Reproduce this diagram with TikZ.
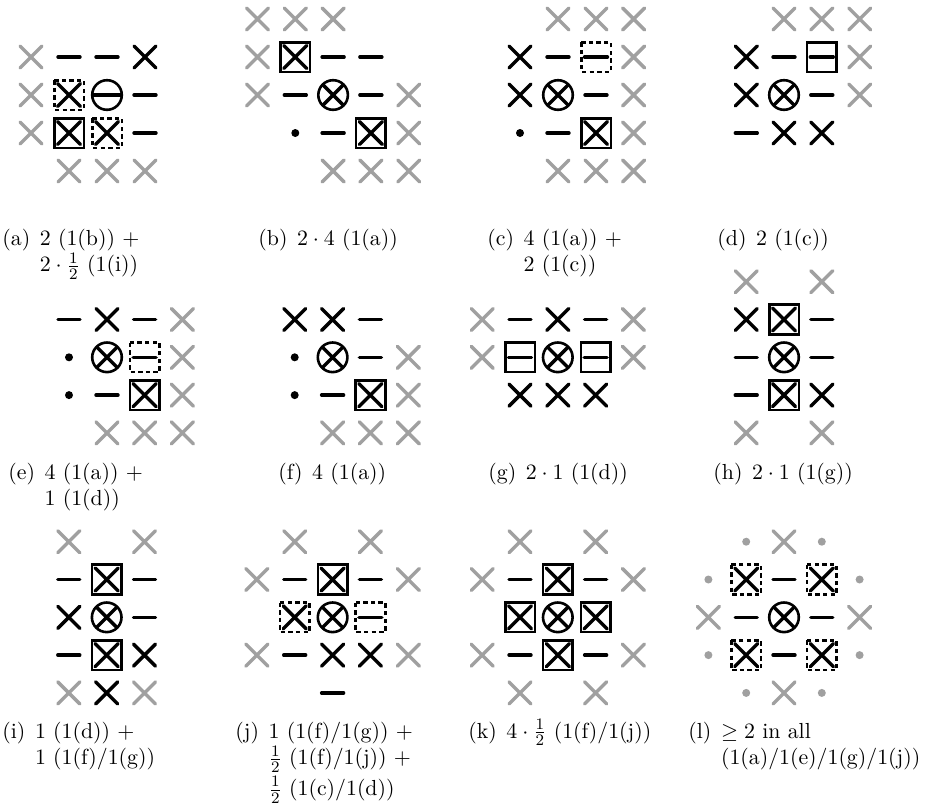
\documentclass[tikz,border=0pt]{standalone}
\usepackage{amsmath,amssymb}
\definecolor{lg}{RGB}{160,160,160}
\tikzset{
 gxs/.style={draw=lg,line width=1.7pt,line cap=round},
 bxs/.style={draw=black,line width=1.7pt,line cap=round},
 fr/.style={draw=black,line width=1.3pt},
 dfr/.style={fr,dash pattern=on 2.2pt off 1.6pt},
 pics/gx/.style={code={\draw[gxs] (-11,-11)--(11,11) (-11,11)--(11,-11);}},
 pics/bx/.style={code={\draw[bxs] (-11,-11)--(11,11) (-11,11)--(11,-11);}},
 pics/dsh/.style={code={\draw[bxs] (-11,0)--(11,0);}},
 pics/dt/.style={code={\fill (0,0) circle (2pt);}},
 pics/gdt/.style={code={\fill[lg] (0,0) circle (2pt);}},
 pics/bbx/.style={code={\draw[fr] (-14.8,-14.8) rectangle (14.8,14.8);
   \draw[bxs] (-11.5,-11.5)--(11.5,11.5) (-11.5,11.5)--(11.5,-11.5);}},
 pics/dbx/.style={code={\draw[dfr] (-14.8,-14.8) rectangle (14.8,14.8);
   \draw[bxs] (-11.5,-11.5)--(11.5,11.5) (-11.5,11.5)--(11.5,-11.5);}},
 pics/bbm/.style={code={\draw[fr] (-14.8,-14.8) rectangle (14.8,14.8);
   \draw[bxs] (-11.5,0)--(11.5,0);}},
 pics/dbm/.style={code={\draw[dfr] (-14.8,-14.8) rectangle (14.8,14.8);
   \draw[bxs] (-11.5,0)--(11.5,0);}},
 pics/cx/.style={code={\draw[fr] (0,0) circle (7.4pt);
   \draw[draw=black,line width=1.7pt] (-10.4,-10.4)--(10.4,10.4) (-10.4,10.4)--(10.4,-10.4);}},
 pics/cm/.style={code={\draw[fr] (0,0) circle (7.4pt);
   \draw[draw=black,line width=1.7pt] (-14.5,0)--(14.5,0);}},
 captxt/.style={anchor=base west,inner sep=0pt,font=\fontsize{10.9}{13}\selectfont},
}
\newcommand\lbsep{\hspace{4.8pt}}
\begin{document}
\begin{tikzpicture}[x=0.5pt,y=-0.5pt]
\useasboundingbox (0,0) rectangle (926,810);
% (a)
\path (31,57) pic{gx} (69,57) pic{dsh} (107,57) pic{dsh} (145,57) pic{bx}
      (31,95) pic{gx} (69,95) pic{dbx} (107,95) pic{cm} (145,95) pic{dsh}
      (31,133) pic{gx} (69,133) pic{bbx} (107,133) pic{dbx} (145,133) pic{dsh}
      (69,171) pic{gx} (107,171) pic{gx} (145,171) pic{gx};
% (b)
\path (257.5,19) pic{gx} (295.3,19) pic{gx} (333.1,19) pic{gx}
      (257.5,57) pic{gx} (295.3,57) pic{bbx} (333.1,57) pic{dsh} (370.9,57) pic{dsh}
      (257.5,95) pic{gx} (295.3,95) pic{dsh} (333.1,95) pic{cx} (370.9,95) pic{dsh} (408.7,95) pic{gx}
      (295.3,133) pic{dt} (333.1,133) pic{dsh} (370.9,133) pic{bbx} (408.7,133) pic{gx}
      (333.1,171) pic{gx} (370.9,171) pic{gx} (408.7,171) pic{gx};
% (c)
\path (558,19) pic{gx} (596,19) pic{gx} (633.6,19) pic{gx}
      (520,57) pic{bx} (558,57) pic{dsh} (596,57) pic{dbm} (633.6,57) pic{gx}
      (520,95) pic{bx} (558,95) pic{cx} (596,95) pic{dsh} (633.6,95) pic{gx}
      (520,133) pic{dt} (558,133) pic{dsh} (596,133) pic{bbx} (633.6,133) pic{gx}
      (558,171) pic{gx} (596,171) pic{gx} (633.6,171) pic{gx};
% (d)
\path (784,19) pic{gx} (821.8,19) pic{gx} (859.7,19) pic{gx}
      (746.3,57) pic{bx} (784,57) pic{dsh} (821.8,57) pic{bbm} (859.7,57) pic{gx}
      (746.3,95) pic{bx} (784,95) pic{cx} (821.8,95) pic{dsh} (859.7,95) pic{gx}
      (746.3,133) pic{dsh} (784,133) pic{bx} (821.8,133) pic{bx};
% (e)
\path (69,319.5) pic{dsh} (107,319.5) pic{bx} (144.6,319.5) pic{dsh} (182.4,319.5) pic{gx}
      (69,357.3) pic{dt} (107,357.3) pic{cx} (144.6,357.3) pic{dbm} (182.4,357.3) pic{gx}
      (69,395.1) pic{dt} (107,395.1) pic{dsh} (144.6,395.1) pic{bbx} (182.4,395.1) pic{gx}
      (107,432.9) pic{gx} (144.6,432.9) pic{gx} (182.4,432.9) pic{gx};
% (f)
\path (294.7,319.5) pic{bx} (332.6,319.5) pic{bx} (370.4,319.5) pic{dsh}
      (294.7,357.3) pic{dt} (332.6,357.3) pic{cx} (370.4,357.3) pic{dsh} (408.3,357.3) pic{gx}
      (294.7,395.1) pic{dt} (332.6,395.1) pic{dsh} (370.4,395.1) pic{bbx} (408.3,395.1) pic{gx}
      (332.6,432.9) pic{gx} (370.4,432.9) pic{gx} (408.3,432.9) pic{gx};
% (g)
\path (482.2,319.5) pic{gx} (520,319.5) pic{dsh} (557.8,319.5) pic{bx} (595.6,319.5) pic{dsh} (633.4,319.5) pic{gx}
      (482.2,357.3) pic{gx} (520,357.3) pic{bbm} (557.8,357.3) pic{cx} (595.6,357.3) pic{bbm} (633.4,357.3) pic{gx}
      (520,395.1) pic{bx} (557.8,395.1) pic{bx} (595.6,395.1) pic{bx};
% (h)
\path (746.2,281.7) pic{gx} (821.8,281.7) pic{gx}
      (746.2,319.5) pic{bx} (784,319.5) pic{bbx} (821.8,319.5) pic{dsh}
      (746.2,357.3) pic{dsh} (784,357.3) pic{cx} (821.8,357.3) pic{dsh}
      (746.2,395.1) pic{dsh} (784,395.1) pic{bbx} (821.8,395.1) pic{bx}
      (746.2,432.9) pic{gx} (821.8,432.9) pic{gx};
% (i)
\path (68.8,541.7) pic{gx} (144.5,541.7) pic{gx}
      (68.8,579.5) pic{dsh} (106.7,579.5) pic{bbx} (144.5,579.5) pic{dsh}
      (68.8,617.3) pic{bx} (106.7,617.3) pic{cx} (144.5,617.3) pic{dsh}
      (68.8,655.1) pic{dsh} (106.7,655.1) pic{bbx} (144.5,655.1) pic{bx}
      (68.8,692.9) pic{gx} (106.7,692.9) pic{bx} (144.5,692.9) pic{gx};
% (j)
\path (294.7,541.7) pic{gx} (370.4,541.7) pic{gx}
      (256.8,579.5) pic{gx} (294.7,579.5) pic{dsh} (332.6,579.5) pic{bbx} (370.4,579.5) pic{dsh} (408.3,579.5) pic{gx}
      (294.7,617.3) pic{dbx} (332.6,617.3) pic{cx} (370.4,617.3) pic{dbm}
      (256.8,655.1) pic{gx} (294.7,655.1) pic{dsh} (332.6,655.1) pic{bx} (370.4,655.1) pic{bx} (408.3,655.1) pic{gx}
      (332.6,692.9) pic{dsh};
% (k)
\path (520,541.7) pic{gx} (595.6,541.7) pic{gx}
      (482.2,579.5) pic{gx} (520,579.5) pic{dsh} (557.8,579.5) pic{bbx} (595.6,579.5) pic{dsh} (633.4,579.5) pic{gx}
      (520,617.3) pic{bbx} (557.8,617.3) pic{cx} (595.6,617.3) pic{bbx}
      (482.2,655.1) pic{gx} (520,655.1) pic{dsh} (557.8,655.1) pic{bbx} (595.6,655.1) pic{dsh} (633.4,655.1) pic{gx}
      (520,692.9) pic{gx} (595.6,692.9) pic{gx};
% (l)
\path (746.2,541.7) pic{gdt} (784,541.7) pic{gx} (821.8,541.7) pic{gdt}
      (708.4,579.5) pic{gdt} (746.2,579.5) pic{dbx} (784,579.5) pic{dsh} (821.8,579.5) pic{dbx} (859.6,579.5) pic{gdt}
      (708.4,617.3) pic{gx} (746.2,617.3) pic{dsh} (784,617.3) pic{cx} (821.8,617.3) pic{dsh} (859.6,617.3) pic{gx}
      (708.4,655.1) pic{gdt} (746.2,655.1) pic{dbx} (784,655.1) pic{dsh} (821.8,655.1) pic{dbx} (859.6,655.1) pic{gdt}
      (746.2,692.9) pic{gdt} (784,692.9) pic{gx} (821.8,692.9) pic{gdt};
% captions
\node[captxt] (capa) at (2,245) {\begin{tabular}[t]{@{}l@{\lbsep}l@{}}(a) & $2$ (1(b)) $+$\\ & $2\cdot\frac{1}{2}$ (1(i))\end{tabular}};
\node[captxt] (capb) at (258,245) {(b)\lbsep$2\cdot 4$ (1(a))};
\node[captxt] (capc) at (487,245) {\begin{tabular}[t]{@{}l@{\lbsep}l@{}}(c) & $4$ (1(a)) $+$\\ & $2$ (1(c))\end{tabular}};
\node[captxt] (capd) at (717,245) {(d)\lbsep$2$ (1(c))};
\node[captxt] (cape) at (8,479) {\begin{tabular}[t]{@{}l@{\lbsep}l@{}}(e) & $4$ (1(a)) $+$\\ & $1$ (1(d))\end{tabular}};
\node[captxt] (capf) at (278,479) {(f)\lbsep$4$ (1(a))};
\node[captxt] (capg) at (488,479) {(g)\lbsep$2\cdot 1$ (1(d))};
\node[captxt] (caph) at (713,479) {(h)\lbsep$2\cdot 1$ (1(g))};
\node[captxt] (capi) at (2,738) {\begin{tabular}[t]{@{}l@{\lbsep}l@{}}(i) & $1$ (1(d)) $+$\\ & $1$ (1(f)/1(g))\end{tabular}};
\node[captxt] (capj) at (235,738) {\begin{tabular}[t]{@{}l@{\lbsep}l@{}}(j) & $1$ (1(f)/1(g)) $+$\\ & $\frac{1}{2}$ (1(f)/1(j)) $+$\\[2pt] & $\frac{1}{2}$ (1(c)/1(d))\end{tabular}};
\node[captxt] (capk) at (468,738) {(k)\lbsep$4\cdot\frac{1}{2}$ (1(f)/1(j))};
\node[captxt] (capl) at (688,738) {\begin{tabular}[t]{@{}l@{\lbsep}l@{}}(l) & $\geq 2$ in all\\ & (1(a)/1(e)/1(g)/1(j))\end{tabular}};
\end{tikzpicture}
\end{document}
